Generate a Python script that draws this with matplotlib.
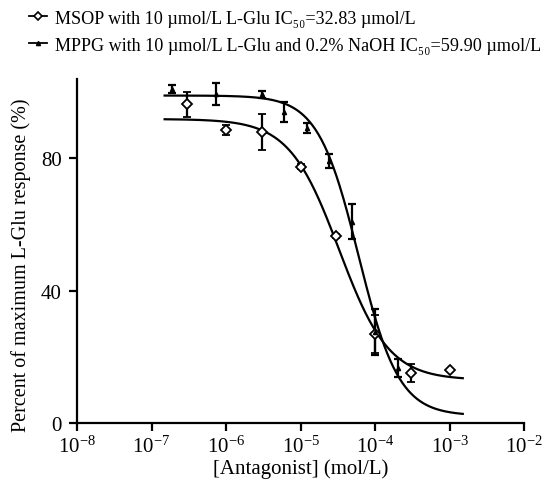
import numpy as np
import matplotlib
matplotlib.use("Agg")
import matplotlib.pyplot as plt
from matplotlib.ticker import LogLocator, LogFormatterSciNotation, NullLocator
from matplotlib.lines import Line2D

plt.rcParams['font.family'] = ['Liberation Serif', 'DejaVu Serif']
plt.rcParams['mathtext.fontset'] = 'stix'

# MSOP data
msop_x = [3e-7, 1e-6, 3e-6, 1e-5, 3e-5, 1e-4, 3e-4, 1e-3]
msop_y = [96.4, 88.6, 87.9, 77.5, 56.5, 27.0, 15.2, 15.9]
msop_err = [3.8, 1.5, 5.4, 0.8, 0.5, 5.8, 2.7, 0.0]
# MPPG data
mppg_x = [1.9e-7, 7.4e-7, 3.05e-6, 6e-6, 1.23e-5, 2.4e-5, 4.9e-5, 1e-4, 2e-4]
mppg_y = [100.9, 99.4, 99.4, 93.9, 89.2, 79.2, 60.8, 27.6, 16.7]
mppg_err = [1.2, 3.3, 1.0, 3.0, 1.4, 2.0, 5.3, 7.0, 2.7]

# fitted curve parameters: top, bottom, IC50, hill slope
msop_fit = dict(top=91.9, bottom=13.0, ic50=32.83e-6, hill=1.3)
mppg_fit = dict(top=99.0, bottom=2.2, ic50=59.90e-6, hill=1.6)
curve_range = (1.5e-7, 1.5e-3)

labels = ['MSOP with 10 \u00b5mol/L L-Glu IC\u2085\u2080=32.83 \u00b5mol/L',
          'MPPG with 10 \u00b5mol/L L-Glu and 0.2% NaOH IC\u2085\u2080=59.90 \u00b5mol/L']

def logistic(x, top, bottom, ic50, hill):
    return bottom + (top - bottom) / (1 + (x / ic50) ** hill)

fig = plt.figure(figsize=(5.59, 4.81), dpi=100)
ax = fig.add_axes([0.1377, 0.1185, 0.80, 0.7152])

xc = np.logspace(np.log10(curve_range[0]), np.log10(curve_range[1]), 400)
ax.plot(xc, logistic(xc, **msop_fit), color='black', lw=1.6)
ax.plot(xc, logistic(xc, **mppg_fit), color='black', lw=1.6)

ax.errorbar(msop_x, msop_y, yerr=msop_err, fmt='D', mfc='white', mec='black',
            mew=1.3, ms=5, ecolor='black', elinewidth=1.6, capsize=3, capthick=1.6,
            zorder=5)
ax.errorbar(mppg_x, mppg_y, yerr=mppg_err, fmt='^', mfc='black', mec='black',
            ms=3, ecolor='black', elinewidth=1.6, capsize=3, capthick=1.6,
            zorder=5)

ax.set_xscale('log')
ax.set_xlim(1e-8, 1e-2)
ax.set_ylim(0, 104)
ax.xaxis.set_major_locator(LogLocator(base=10, numticks=10))
ax.xaxis.set_minor_locator(NullLocator())
ax.xaxis.set_major_formatter(LogFormatterSciNotation())
ax.set_yticks([0, 40, 80])
for s in ['top', 'right']:
    ax.spines[s].set_visible(False)
for s in ['left', 'bottom']:
    ax.spines[s].set_linewidth(1.6)
ax.tick_params(axis='both', direction='out', length=6, width=1.6, labelsize=15, pad=3)
ax.tick_params(axis='y', pad=5)
ax.set_xlabel('[Antagonist] (mol/L)', fontsize=15, labelpad=1)
ax.set_ylabel('Percent of maximum L-Glu response (%)', fontsize=14.5)
ax.yaxis.set_label_coords(-0.102, 0.462)

h1 = Line2D([], [], color='black', lw=1.3, marker='D', mfc='white', mec='black', ms=4.5, mew=1.2)
h2 = Line2D([], [], color='black', lw=1.3, marker='^', mfc='black', mec='black', ms=3)
fig.legend([h1, h2], labels, loc='upper left', bbox_to_anchor=(0.022, 1.012),
           frameon=False, fontsize=13.1, handlelength=1.0, handletextpad=0.45,
           labelspacing=0.55)

fig.savefig('out.png', dpi=100)
